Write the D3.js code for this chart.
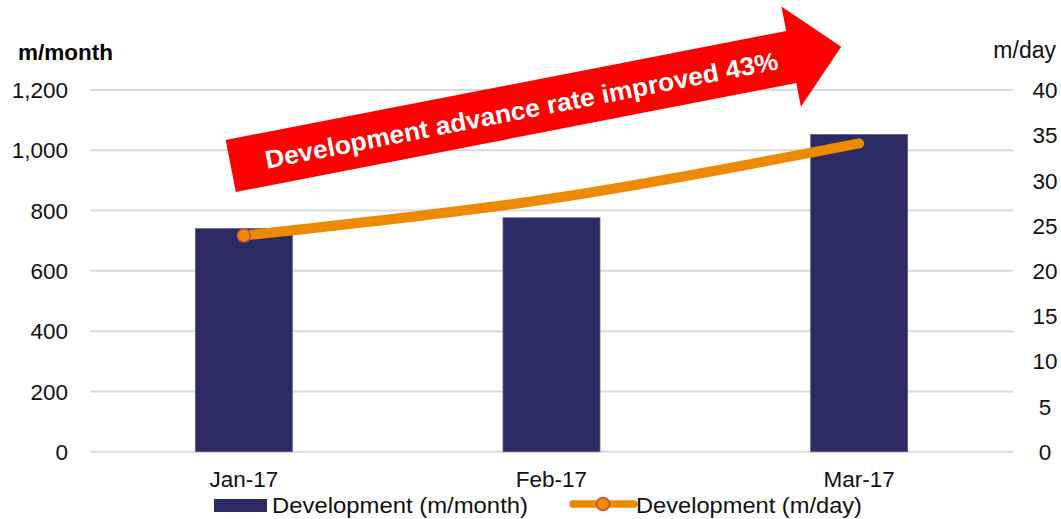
<!doctype html>
<html lang="en">
<head>
    <meta charset="utf-8" />
    <title>Development advance rate</title>
    <script src="https://d3js.org/d3.v7.min.js"></script>
    <style>
        body { margin: 0; background: #fff; }
        text { font-family: Arial, "Liberation Sans", sans-serif; }
    </style>
</head>
<body>

<svg></svg>

<script>
let width = 1061,
    height = 519;

// chart data
const months = ["Jan-17", "Feb-17", "Mar-17"];
const perMonth = [740, 776, 1052];
const perDay = [23.9, 28.0, 34.1];
const leftTicks = [0, 200, 400, 600, 800, 1000, 1200];
const rightTicks = [0, 5, 10, 15, 20, 25, 30, 35, 40];
const note = "Development advance rate improved 43%";

const navy = "#2B2A62",
      orange = "#EE8A00",
      grid = "#D9D9D9";

let svg = d3.select("svg")
    .attr("width", width)
    .attr("height", height);

let x = d3.scaleBand()
    .domain(months)
    .range([90, 1013]);

let yL = d3.scaleLinear().domain([0, 1200]).range([451.7, 90]);
let yR = d3.scaleLinear().domain([0, 40]).range([451.7, 90]);

// gridlines
svg.append("g").selectAll("line")
    .data(leftTicks)
    .enter()
    .append("line")
        .attr("x1", 90)
        .attr("x2", 1013)
        .attr("y1", d => yL(d))
        .attr("y2", d => yL(d))
        .attr("stroke", grid)
        .attr("stroke-width", 2);

// left axis labels
svg.append("g").selectAll("text")
    .data(leftTicks)
    .enter()
    .append("text")
        .attr("x", 68)
        .attr("y", d => yL(d))
        .attr("dy", "0.36em")
        .attr("text-anchor", "end")
        .attr("font-size", 22.5)
        .attr("fill", "#111")
        .text(d => d3.format(",")(d));

// right axis labels
svg.append("g").selectAll("text")
    .data(rightTicks)
    .enter()
    .append("text")
        .attr("x", 1045)
        .attr("y", d => yR(d))
        .attr("dy", "0.36em")
        .attr("text-anchor", "middle")
        .attr("font-size", 22.5)
        .attr("fill", "#111")
        .text(d => d);

svg.append("text")
    .attr("x", 18).attr("y", 60)
    .attr("font-size", 22.5)
    .attr("font-weight", "bold")
    .text("m/month");

svg.append("text")
    .attr("x", 1056).attr("y", 58)
    .attr("text-anchor", "end")
    .attr("font-size", 23)
    .attr("fill", "#111")
    .text("m/day");

// x labels
svg.append("g").selectAll("text")
    .data(months)
    .enter()
    .append("text")
        .attr("x", d => x(d) + x.bandwidth() / 2)
        .attr("y", 487)
        .attr("text-anchor", "middle")
        .attr("font-size", 22.5)
        .attr("fill", "#111")
        .text(d => d);

// bars
let barW = x.bandwidth() * 0.315;
svg.append("g").selectAll("rect")
    .data(months)
    .enter()
    .append("rect")
        .attr("x", d => x(d) + x.bandwidth() / 2 - barW / 2)
        .attr("width", barW)
        .attr("y", (d, i) => yL(perMonth[i]))
        .attr("height", (d, i) => yL(0) - yL(perMonth[i]))
        .attr("fill", navy)
        .attr("stroke", "#55558a")
        .attr("stroke-width", 0.8);

// arrow annotation (in its own rotated frame)
let arrow = svg.append("g")
    .attr("transform", "translate(225.7,140) rotate(-11)");

arrow.append("path")
    .attr("d", "M0,0 L571,0 L571,-25 L622,26 L571,77 L571,53 L0,53 Z")
    .attr("fill", "#FF0000");

arrow.append("text")
    .attr("x", 35)
    .attr("y", 36)
    .attr("font-size", 25.5)
    .attr("font-weight", "bold")
    .attr("fill", "#fff")
    .attr("textLength", 522)
    .attr("lengthAdjust", "spacingAndGlyphs")
    .text(note);

// line on right axis
let line = d3.line()
    .x((d, i) => x(months[i]) + x.bandwidth() / 2)
    .y(d => yR(d))
    .curve(d3.curveCatmullRom);

svg.append("path")
    .datum(perDay)
    .attr("d", line)
    .attr("fill", "none")
    .attr("stroke", orange)
    .attr("stroke-width", 10)
    .attr("stroke-linecap", "round");

svg.append("circle")
    .attr("cx", x(months[0]) + x.bandwidth() / 2)
    .attr("cy", yR(perDay[0]))
    .attr("r", 6.5)
    .attr("fill", orange)
    .attr("stroke", "#C0504D")
    .attr("stroke-width", 1.5);

// legend
let lg = svg.append("g");
lg.append("rect")
    .attr("x", 214).attr("y", 499)
    .attr("width", 53).attr("height", 13)
    .attr("fill", navy);
lg.append("text")
    .attr("x", 272).attr("y", 513)
    .attr("font-size", 22.5)
    .attr("fill", "#111")
    .attr("textLength", 256)
    .attr("lengthAdjust", "spacingAndGlyphs")
    .text("Development (m/month)");

lg.append("line")
    .attr("x1", 573).attr("x2", 634)
    .attr("y1", 504).attr("y2", 504)
    .attr("stroke", orange)
    .attr("stroke-width", 7.5)
    .attr("stroke-linecap", "round");
lg.append("circle")
    .attr("cx", 603).attr("cy", 504)
    .attr("r", 6.5)
    .attr("fill", orange)
    .attr("stroke", "#C0504D")
    .attr("stroke-width", 1.5);
lg.append("text")
    .attr("x", 636).attr("y", 513)
    .attr("font-size", 22.5)
    .attr("fill", "#111")
    .attr("textLength", 226)
    .attr("lengthAdjust", "spacingAndGlyphs")
    .text("Development (m/day)");

</script>

</body>
</html>
